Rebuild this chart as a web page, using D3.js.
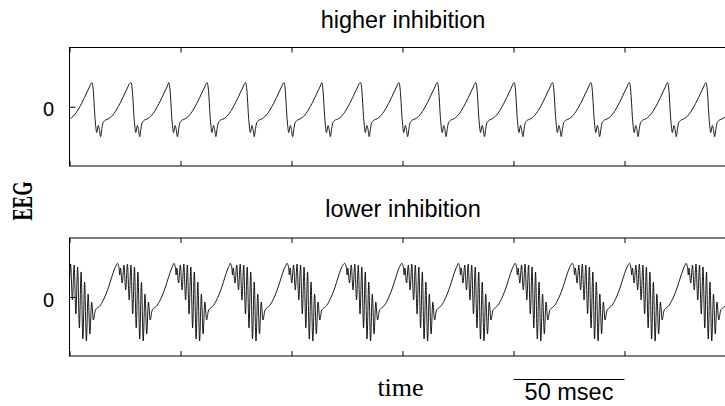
<!DOCTYPE html>
<html>
<head>
<meta charset="utf-8">
<script src="https://cdn.jsdelivr.net/npm/d3@7"></script>
<style>
  body { margin: 0; background: #fff; }
  svg { display: block; }
  .zero text { font-family: "Liberation Sans", Arial, sans-serif; font-size: 20px; fill: #000; }
</style>
</head>
<body>
<div id="chart"></div>
<script>
// time axis (msec), ticks every 50
var timeTicks = [0, 50, 100, 150, 200, 250, 300];

// higher inhibition: one cycle (msec after peak, EEG value)
var highOffsets = [0, 0.23, 0.54, 0.9, 1.26, 1.62, 2.16, 2.52, 2.88, 3.29, 3.92, 4.41, 4.86,
    5.41, 6.08, 6.76, 7.66, 8.78, 9.91, 11.26, 12.61, 13.96, 15.09, 15.99, 16.67];
var highValues = [0.406, 0.387, 0.300, 0.114, -0.122, -0.291, -0.435, -0.376, -0.316, -0.367,
    -0.505, -0.392, -0.291, -0.249, -0.224, -0.215, -0.198, -0.165, -0.114, -0.038,
    0.055, 0.156, 0.249, 0.316, 0.376];
// peak times of each cycle (msec)
var highPeaks = [-7.2, 10.1, 27.7, 44.7, 62.0, 79.3, 96.6, 113.6, 131.1, 148.4, 165.7,
    183.0, 200.3, 217.6, 234.9, 252.2, 269.4, 286.7];

// lower inhibition: one cycle with its fast burst
var lowOffsets = [0, 0.36, 0.72, 1.04, 1.35, 2.14, 2.93, 3.72, 4.50, 5.29, 6.08, 6.87, 7.66,
    8.45, 9.23, 10.02, 10.81, 11.60, 12.39, 13.18, 13.96, 14.75, 15.54, 16.22, 16.89, 17.79,
    18.92, 20.27, 21.62, 22.97, 24.10, 25.00];
var lowValues = [0.571, 0.551, 0.492, 0.373, 0.492, 0.237, 0.542, 0.119, 0.559, -0.051,
    0.542, -0.288, 0.508, -0.525, 0.424, -0.712, 0.254, -0.746, 0.051, -0.627, -0.085,
    -0.390, -0.237, -0.195, -0.178, -0.144, -0.076, 0.034, 0.169, 0.331, 0.458, 0.534];
var lowPeaks = [-4.0, 21.6, 47.0, 72.4, 98.0, 124.0, 149.7, 175.1, 200.7, 226.5, 252.2, 277.7];

var width = 725, height = 406;

var svg = d3.select("#chart").append("svg")
    .attr("width", width)
    .attr("height", height);

var x = d3.scaleLinear().domain([0, 300]).range([69.5, 735.5]);

var panels = [
    {title: "higher inhibition", titleY: 28, top: 47.5, bottom: 166, peaks: highPeaks, offs: highOffsets, vals: highValues},
    {title: "lower inhibition", titleY: 217, top: 238, bottom: 356, peaks: lowPeaks, offs: lowOffsets, vals: lowValues}
];

function buildTrace(peaks, offs, vals) {
    var pts = [];
    peaks.forEach(function(p) {
        offs.forEach(function(o, i) { pts.push([p + o, vals[i]]); });
    });
    return pts.filter(function(d) { return d[0] > -3 && d[0] < 303; });
}

panels.forEach(function(p, i) {
    var y = d3.scaleLinear().domain([-1, 1]).range([p.bottom, p.top]);
    var g = svg.append("g");

    svg.append("clipPath").attr("id", "clip" + i)
      .append("rect")
        .attr("x", x(0)).attr("y", p.top)
        .attr("width", x(300) - x(0)).attr("height", p.bottom - p.top);

    var line = d3.line()
        .x(function(d) { return x(d[0]); })
        .y(function(d) { return y(d[1]); })
        .curve(d3.curveMonotoneX);

    g.append("path")
        .datum(buildTrace(p.peaks, p.offs, p.vals))
        .attr("clip-path", "url(#clip" + i + ")")
        .attr("fill", "none")
        .attr("stroke", "#000")
        .attr("stroke-width", 0.9)
        .attr("d", line);

    // box
    g.append("rect")
        .attr("x", x(0)).attr("y", p.top)
        .attr("width", x(300) - x(0)).attr("height", p.bottom - p.top)
        .attr("fill", "none").attr("stroke", "#000").attr("stroke-width", 1);

    // inward ticks on top and bottom
    g.append("g").attr("transform", "translate(0," + p.top + ")")
        .call(d3.axisBottom(x).tickValues(timeTicks).tickSize(5).tickSizeOuter(0).tickFormat(""))
        .call(function(a) { a.select(".domain").remove(); });
    g.append("g").attr("transform", "translate(0," + p.bottom + ")")
        .call(d3.axisTop(x).tickValues(timeTicks).tickSize(5).tickSizeOuter(0).tickFormat(""))
        .call(function(a) { a.select(".domain").remove(); });

    // zero tick
    var ya = g.append("g").attr("class", "zero").attr("transform", "translate(" + x(0) + ",0)")
        .call(d3.axisLeft(y).tickValues([0]).tickFormat(d3.format("d"))
            .tickSizeInner(-6).tickSizeOuter(0).tickPadding(15.5));
    ya.select(".domain").remove();
    ya.selectAll(".tick text").attr("dy", "0.45em");

    g.selectAll(".tick line").attr("stroke", "#000");

    svg.append("text")
        .attr("x", 403).attr("y", p.titleY)
        .attr("text-anchor", "middle")
        .attr("font-family", "Liberation Sans, Arial, sans-serif")
        .attr("font-size", 23.5)
        .text(p.title);
});

// y label
svg.append("text")
    .attr("transform", "translate(32,201) rotate(-90)")
    .attr("text-anchor", "middle")
    .attr("font-family", "Liberation Serif, Times New Roman, serif")
    .attr("font-size", 29)
    .attr("font-weight", "bold")
    .attr("textLength", 39)
    .attr("lengthAdjust", "spacingAndGlyphs")
    .text("EEG");

// x label
svg.append("text")
    .attr("x", 400.5).attr("y", 396)
    .attr("text-anchor", "middle")
    .attr("font-family", "Liberation Serif, Times New Roman, serif")
    .attr("font-size", 26)
    .text("time");

// 50 msec scale bar
svg.append("line")
    .attr("x1", x(200)).attr("x2", x(250))
    .attr("y1", 379.5).attr("y2", 379.5)
    .attr("stroke", "#000").attr("stroke-width", 1);

svg.append("text")
    .attr("x", (x(200) + x(250)) / 2).attr("y", 400)
    .attr("text-anchor", "middle")
    .attr("font-family", "Liberation Sans, Arial, sans-serif")
    .attr("font-size", 23.5)
    .text("50 msec");
</script>
</body>
</html>
